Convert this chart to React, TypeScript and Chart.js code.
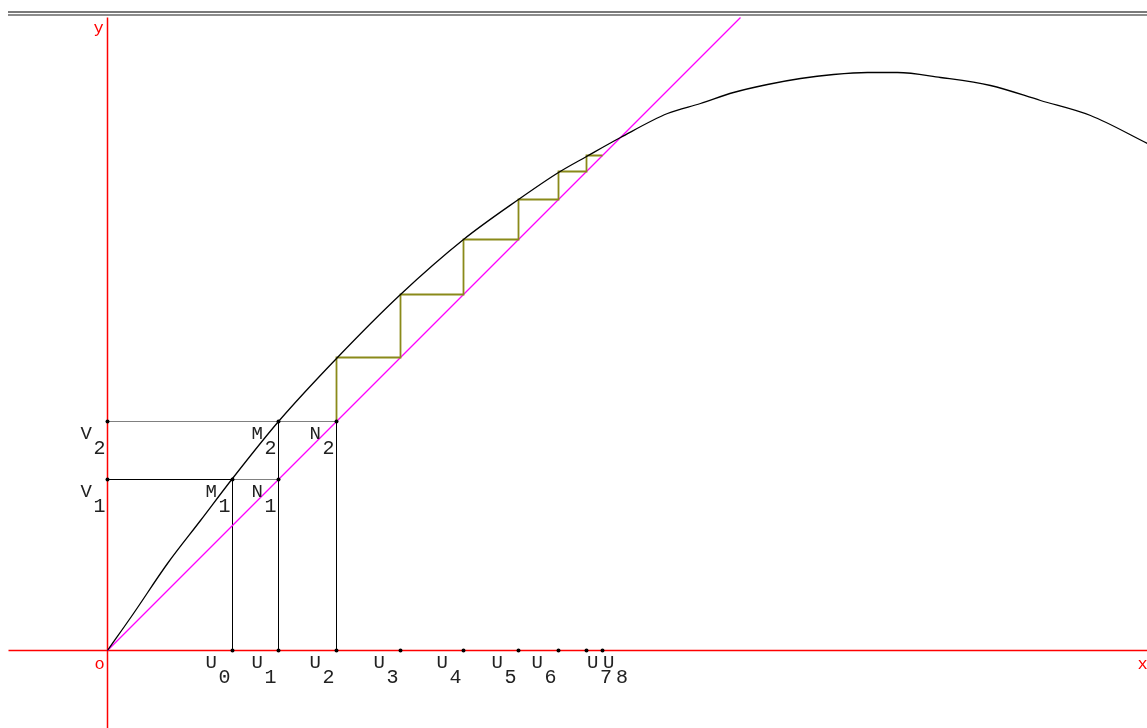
import React, { useEffect, useRef } from "react";
import { Chart, registerables } from "chart.js";

Chart.register(...registerables);

// Curve y = f(x) (1 unit = 100 px)
const curveX = [0, 0.26, 0.6, 0.93, 1.25, 1.71, 2.29, 2.93, 3.56, 4.11, 4.51, 4.79, 5.13, 5.6, 5.93, 6.26, 6.6, 6.93, 7.26, 7.6, 7.9, 8.33, 8.83, 9.33, 9.83, 10.4];
const curveY = [0, 0.37, 0.87, 1.3, 1.72, 2.29, 2.92, 3.56, 4.11, 4.51, 4.78, 4.94, 5.13, 5.37, 5.47, 5.58, 5.66, 5.72, 5.76, 5.78, 5.78, 5.73, 5.65, 5.5, 5.35, 5.07];

// Sequence U0..U8 (U_{n+1} = f(U_n))
const uSeq = [1.25, 1.71, 2.29, 2.93, 3.56, 4.11, 4.51, 4.79, 4.95];
const uNames = ["0", "1", "2", "3", "4", "5", "6", "7", "8"];

// Axes and diagonal extents
const xAxisRange = [-0.99, 10.4];
const yAxisRange = [-0.78, 6.33];
const diagonalRange = [0, 6.33];

const X_MIN = -1.075;
const X_MAX = 10.395;
const Y_MIN = -0.775;
const Y_MAX = 6.505;

const LETTER_FONT = '19px "Liberation Mono", "Courier New", monospace';
const DIGIT_FONT = '20px "Liberation Mono", "Courier New", monospace';
const AXIS_FONT = '17px "Liberation Mono", "Courier New", monospace';

export default function App() {
  const ref = useRef<HTMLCanvasElement>(null);

  useEffect(() => {
    if (!ref.current) return;
    const u = uSeq;
    const curve = curveX.map((x, i) => ({ x, y: curveY[i] }));

    const stair: { x: number; y: number }[] = [{ x: u[2], y: u[2] }];
    for (let n = 2; n < u.length - 1; n++) {
      stair.push({ x: u[n], y: u[n + 1] });
      stair.push({ x: u[n + 1], y: u[n + 1] });
    }

    const lineDs = (data: any[], color: string, width = 1, dash: number[] = [], smooth = false) => ({
      type: "scatter" as const,
      data,
      showLine: true,
      borderColor: color,
      backgroundColor: color,
      borderWidth: width,
      borderDash: dash,
      pointRadius: 0,
      tension: 0,
      cubicInterpolationMode: smooth ? "monotone" : "default",
      fill: false,
    });

    const dots = [
      ...u.map((v) => ({ x: v, y: 0 })),
      { x: 0, y: u[1] },
      { x: 0, y: u[2] },
      { x: u[0], y: u[1] },
      { x: u[1], y: u[1] },
      { x: u[1], y: u[2] },
      { x: u[2], y: u[2] },
    ];

    type Lbl = { letter: string; digit: string; x: number; y: number; shift?: boolean };
    const labels: Lbl[] = [
      ...u.map((v, i) => ({ letter: "U", digit: uNames[i], x: v, y: 0, shift: i >= 7 })),
      { letter: "V", digit: "1", x: 0, y: u[1] },
      { letter: "V", digit: "2", x: 0, y: u[2] },
      { letter: "M", digit: "1", x: u[0], y: u[1] },
      { letter: "M", digit: "2", x: u[1], y: u[2] },
      { letter: "N", digit: "1", x: u[1], y: u[1] },
      { letter: "N", digit: "2", x: u[2], y: u[2] },
    ];

    const decoPlugin = {
      id: "deco",
      beforeDatasetsDraw(chart: any) {
        const ctx = chart.ctx;
        const sx = chart.scales.x;
        const sy = chart.scales.y;
        ctx.save();
        ctx.fillStyle = "#7a7a7a";
        ctx.fillRect(8, 11, 1139, 2);
        ctx.fillStyle = "#8c8c8c";
        ctx.fillRect(8, 14, 1139, 2);
        // axes (red)
        ctx.strokeStyle = "#ff0000";
        ctx.lineWidth = 1.5;
        const ox = sx.getPixelForValue(0);
        const oy = sy.getPixelForValue(0);
        ctx.beginPath();
        ctx.moveTo(sx.getPixelForValue(xAxisRange[0]), oy);
        ctx.lineTo(sx.getPixelForValue(xAxisRange[1]), oy);
        ctx.moveTo(ox, sy.getPixelForValue(yAxisRange[0]));
        ctx.lineTo(ox, sy.getPixelForValue(yAxisRange[1]));
        ctx.stroke();
        ctx.restore();
      },
      afterDatasetsDraw(chart: any) {
        const ctx = chart.ctx;
        const sx = chart.scales.x;
        const sy = chart.scales.y;
        ctx.save();
        ctx.textBaseline = "alphabetic";
        ctx.textAlign = "left";
        ctx.fillStyle = "#222";
        labels.forEach((l) => {
          const px = sx.getPixelForValue(l.x);
          const py = sy.getPixelForValue(l.y);
          const dx = l.shift ? 0.5 : -27;
          ctx.font = LETTER_FONT;
          ctx.fillText(l.letter, px + dx, py + 17);
          ctx.font = DIGIT_FONT;
          ctx.fillText(l.digit, px + dx + 13, py + 32);
        });
        // axis names
        ctx.fillStyle = "#ff0000";
        ctx.font = AXIS_FONT;
        const ox = sx.getPixelForValue(0);
        const oy = sy.getPixelForValue(0);
        ctx.fillText("o", ox - 13, oy + 18);
        ctx.fillText("y", ox - 14, sy.getPixelForValue(yAxisRange[1]) + 15);
        ctx.fillText("x", sx.getPixelForValue(xAxisRange[1]) - 10, oy + 18);
        ctx.restore();
      },
    };

    const chart = new Chart(ref.current, {
      type: "scatter",
      data: {
        datasets: [
          {
            type: "scatter",
            data: dots,
            backgroundColor: "#000",
            borderColor: "#000",
            pointRadius: 2,
            borderWidth: 0,
            showLine: false,
          } as any,
          lineDs(curve, "#000", 1.3, [], true),
          lineDs(stair, "#8a8a1a", 1.8),
          lineDs(diagonalRange.map((v) => ({ x: v, y: v })), "#ff00ff", 1.2),
          lineDs([{ x: u[0], y: 0 }, { x: u[0], y: u[1] }, { x: 0, y: u[1] }], "#000", 1),
          lineDs([{ x: u[1], y: 0 }, { x: u[1], y: u[2] }], "#000", 1),
          lineDs([{ x: u[2], y: 0 }, { x: u[2], y: u[2] }], "#000", 1),
          lineDs([{ x: u[0], y: u[1] }, { x: u[1], y: u[1] }], "#000", 1, [1, 1]),
          lineDs([{ x: 0, y: u[2] }, { x: u[2], y: u[2] }], "#000", 1, [1, 1]),
        ] as any,
      },
      options: {
        responsive: false,
        maintainAspectRatio: false,
        animation: false,
        devicePixelRatio: 1,
        layout: { padding: 0, autoPadding: false },
        plugins: {
          legend: { display: false },
          tooltip: { enabled: false },
          title: { display: false },
        },
        scales: {
          x: { type: "linear", min: X_MIN, max: X_MAX, display: false },
          y: { type: "linear", min: Y_MIN, max: Y_MAX, display: false },
        },
      },
      plugins: [decoPlugin],
    });
    return () => chart.destroy();
  }, []);

  return (
    <div
      style={{
        position: "fixed",
        left: 0,
        top: 0,
        width: 1147,
        height: 728,
        overflow: "hidden",
        background: "#fff",
      }}
    >
      <canvas ref={ref} width={1147} height={728} style={{ display: "block" }} />
    </div>
  );
}
